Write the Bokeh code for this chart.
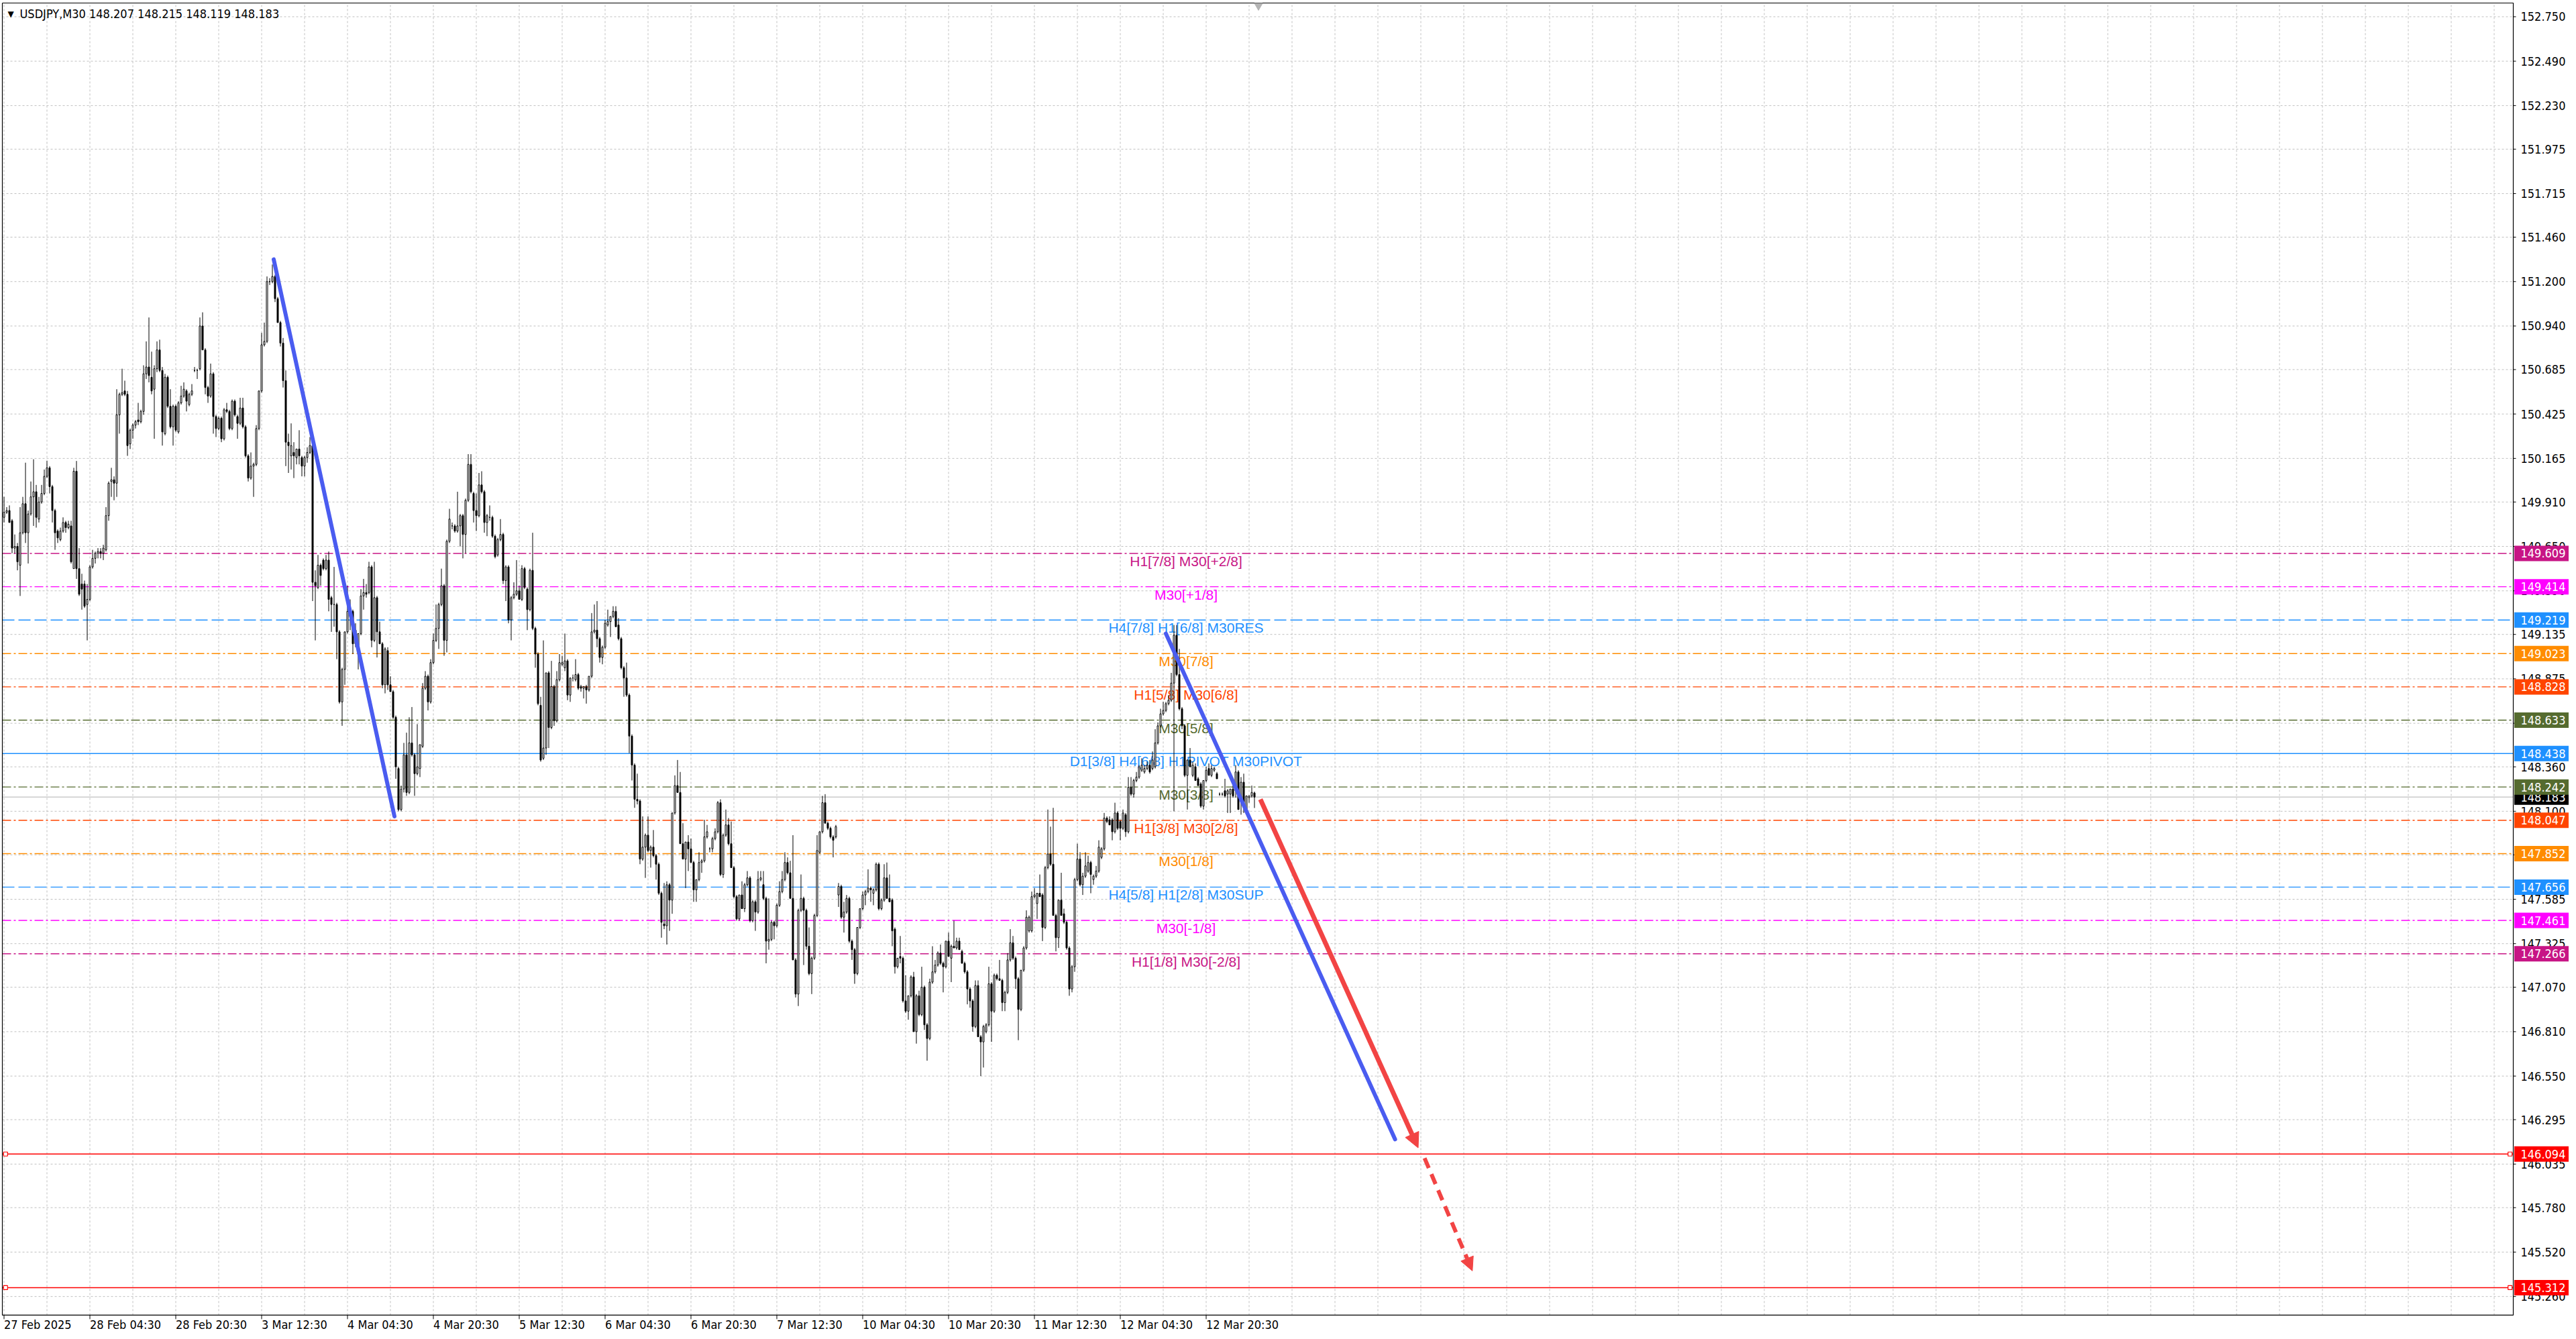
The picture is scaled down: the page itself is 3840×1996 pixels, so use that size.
from bokeh.plotting import figure
from bokeh.models import ColumnDataSource, Range1d, Label, Arrow, NormalHead
from bokeh.core.properties import value
from bokeh.embed import file_html
from bokeh.resources import INLINE

# ---- data (USDJPY M30, one value per bar) ----
title_text = "USDJPY,M30  148.207 148.215 148.119 148.183"

opens = [
    149.82, 149.85, 149.86, 149.80, 149.64, 149.65, 149.54, 149.73, 149.90, 149.73,
    149.84, 149.94, 149.97, 149.81, 149.91, 149.96, 150.06, 150.11, 150.00, 149.86,
    149.74, 149.69, 149.74, 149.79, 149.76, 149.77, 149.52, 150.09, 149.52, 149.43,
    149.43, 149.31, 149.34, 149.53, 149.58, 149.61, 149.62, 149.61, 149.63, 149.83,
    150.03, 150.04, 150.02, 150.42, 150.54, 150.56, 150.54, 150.25, 150.33, 150.36,
    150.39, 150.38, 150.44, 150.66, 150.70, 150.64, 150.57, 150.69, 150.80, 150.68,
    150.31, 150.64, 150.47, 150.35, 150.47, 150.32, 150.49, 150.53, 150.56, 150.48,
    150.54, 150.68, 150.68, 150.69, 150.94, 150.80, 150.58, 150.53, 150.66, 150.41,
    150.34, 150.40, 150.28, 150.45, 150.44, 150.34, 150.50, 150.41, 150.37, 150.46,
    150.35, 150.18, 150.05, 150.12, 150.13, 150.34, 150.56, 150.83, 150.85, 151.20,
    151.20, 151.23, 151.10, 150.96, 150.84, 150.62, 150.26, 150.18, 150.20, 150.17,
    150.22, 150.17, 150.12, 150.17, 150.20, 150.24, 149.44, 149.41, 149.54, 149.57,
    149.52, 149.57, 149.35, 149.31, 149.31, 149.15, 148.74, 148.93, 149.15, 149.27,
    149.27, 149.16, 149.07, 149.14, 149.36, 149.38, 149.38, 149.53, 149.10, 149.35,
    149.15, 149.08, 148.84, 149.04, 148.84, 148.80, 148.65, 148.35, 148.11, 148.23,
    148.43, 148.21, 148.50, 148.43, 148.32, 148.35, 148.48, 148.82, 148.89, 148.74,
    148.97, 149.10, 149.17, 149.31, 149.42, 149.10, 149.68, 149.77, 149.77, 149.74,
    149.77, 149.83, 149.72, 149.92, 150.13, 149.96, 149.86, 149.83, 150.01, 149.97,
    149.79, 149.82, 149.82, 149.71, 149.60, 149.69, 149.72, 149.45, 149.53, 149.22,
    149.35, 149.37, 149.39, 149.34, 149.52, 149.40, 149.28, 149.51, 149.17, 149.02,
    148.72, 148.41, 148.47, 148.91, 148.59, 148.83, 148.63, 148.87, 148.96, 148.94,
    148.98, 148.78, 148.88, 148.87, 148.90, 148.83, 148.82, 148.83, 148.81, 148.89,
    149.15, 149.16, 149.11, 149.00, 149.06, 149.19, 149.21, 149.24, 149.27, 149.19,
    149.11, 148.94, 148.88, 148.78, 148.54, 148.37, 148.17, 148.16, 147.82, 147.89,
    147.96, 147.87, 147.89, 147.84, 147.79, 147.62, 147.44, 147.43, 147.67, 147.58,
    148.09, 148.25, 148.21, 147.91, 147.82, 147.92, 147.88, 147.80, 147.64, 147.70,
    147.80, 147.81, 147.95, 147.88, 147.88, 147.94, 147.98, 148.15, 147.73, 147.96,
    148.02, 147.91, 147.77, 147.60, 147.47, 147.61, 147.53, 147.67, 147.71, 147.46,
    147.57, 147.51, 147.70, 147.67, 147.59, 147.34, 147.35, 147.45, 147.43, 147.55,
    147.63, 147.70, 147.80, 147.74, 147.59, 147.23, 147.03, 147.52, 147.59, 147.52,
    147.31, 147.15, 147.24, 147.49, 147.86, 147.98, 148.15, 148.03, 148.00, 147.95,
    147.95, 147.61, 147.66, 147.48, 147.51, 147.59, 147.34, 147.29, 147.15, 147.42,
    147.53, 147.61, 147.63, 147.65, 147.62, 147.64, 147.79, 147.53, 147.58, 147.71,
    147.59, 147.58, 147.41, 147.19, 147.25, 147.24, 146.99, 146.93, 147.02, 147.13,
    146.81, 147.02, 146.91, 147.07, 146.85, 146.77, 147.10, 147.16, 147.20, 147.27,
    147.21, 147.19, 147.34, 147.24, 147.31, 147.30, 147.34, 147.28, 147.21, 147.16,
    147.06, 146.99, 146.84, 147.08, 146.78, 146.75, 146.81, 146.85, 147.09, 146.93,
    147.14, 147.12, 147.11, 146.98, 147.04, 147.23, 147.33, 147.24, 147.12, 146.94,
    147.17, 147.30, 147.40, 147.40, 147.60, 147.56, 147.62, 147.61, 147.42, 147.77,
    147.85, 147.79, 147.49, 147.36, 147.58, 147.50, 147.45, 147.30, 147.06, 147.19,
    147.70, 147.82, 147.67, 147.72, 147.75, 147.80, 147.70, 147.72, 147.75, 147.83,
    147.88, 148.06, 148.05, 148.05, 147.98, 148.09, 148.04, 148.00, 148.08, 147.98,
    148.24, 148.20, 148.28, 148.30, 148.34, 148.33, 148.35, 148.37, 148.35, 148.36,
    148.50, 148.60, 148.67, 148.69, 148.73, 148.75, 148.85, 149.13, 148.90, 148.70,
    148.60, 148.31, 148.40, 148.31, 148.36, 148.29, 148.26, 148.13, 148.28, 148.35,
    148.31, 148.34, 148.32, 148.20, 148.20, 148.22, 148.20, 148.20, 148.23, 148.22,
    148.33, 148.16, 148.27, 148.11, 148.18, 148.19, 148.207,
]

highs = [
    149.94, 149.88, 149.89, 149.81, 149.72, 149.67, 149.88, 149.94, 150.14, 149.86,
    150.03, 150.16, 150.01, 149.94, 150.01, 150.10, 150.15, 150.12, 150.01, 149.87,
    149.75, 149.76, 149.82, 149.80, 149.80, 149.80, 150.11, 150.15, 149.64, 149.49,
    149.45, 149.43, 149.54, 149.63, 149.62, 149.64, 149.64, 149.66, 149.88, 150.03,
    150.11, 150.06, 150.57, 150.55, 150.69, 150.62, 150.56, 150.34, 150.37, 150.39,
    150.49, 150.45, 150.71, 150.85, 150.99, 150.79, 150.71, 150.85, 150.86, 150.70,
    150.66, 150.65, 150.57, 150.48, 150.48, 150.50, 150.59, 150.61, 150.57, 150.55,
    150.60, 150.70, 150.69, 150.99, 151.02, 150.81, 150.59, 150.72, 150.67, 150.42,
    150.41, 150.41, 150.46, 150.49, 150.45, 150.51, 150.51, 150.42, 150.52, 150.52,
    150.36, 150.19, 150.20, 150.14, 150.36, 150.56, 150.90, 150.96, 151.23, 151.22,
    151.30, 151.24, 151.11, 150.97, 150.87, 150.68, 150.31, 150.37, 150.26, 150.22,
    150.33, 150.18, 150.18, 150.23, 150.29, 150.26, 149.51, 149.60, 149.55, 149.58,
    149.60, 149.62, 149.36, 149.53, 149.32, 149.16, 148.94, 149.15, 149.42, 149.34,
    149.28, 149.20, 149.14, 149.40, 149.46, 149.43, 149.56, 149.54, 149.56, 149.36,
    149.21, 149.09, 149.06, 149.06, 148.89, 148.81, 148.66, 148.36, 148.25, 148.50,
    148.56, 148.65, 148.71, 148.44, 148.61, 148.49, 148.85, 148.92, 148.90, 148.99,
    149.14, 149.31, 149.32, 149.52, 149.43, 149.69, 149.87, 149.79, 149.78, 149.97,
    149.84, 149.84, 149.93, 150.19, 150.19, 149.97, 149.96, 150.08, 150.09, 149.98,
    149.84, 149.89, 149.83, 149.72, 149.70, 149.81, 149.73, 149.54, 149.54, 149.36,
    149.44, 149.57, 149.42, 149.54, 149.53, 149.41, 149.52, 149.73, 149.18, 149.03,
    148.77, 149.10, 148.91, 148.92, 148.98, 148.84, 148.92, 149.02, 149.01, 149.14,
    148.99, 148.88, 148.90, 148.99, 148.91, 148.84, 148.83, 148.84, 148.89, 149.26,
    149.31, 149.33, 149.12, 149.07, 149.22, 149.28, 149.24, 149.30, 149.30, 149.23,
    149.12, 148.95, 148.97, 148.79, 148.55, 148.38, 148.32, 148.17, 148.07, 147.97,
    148.07, 147.90, 147.99, 147.85, 147.80, 147.63, 147.68, 147.69, 147.68, 148.09,
    148.31, 148.40, 148.33, 148.03, 147.92, 147.96, 147.94, 147.81, 147.70, 147.86,
    147.82, 148.05, 148.02, 147.89, 147.95, 148.00, 148.16, 148.17, 147.97, 148.11,
    148.06, 148.04, 147.78, 147.61, 147.61, 147.69, 147.68, 147.75, 147.72, 147.58,
    147.58, 147.75, 147.75, 147.75, 147.60, 147.59, 147.46, 147.46, 147.56, 147.69,
    147.75, 147.86, 147.83, 147.81, 147.96, 147.24, 147.53, 147.73, 147.60, 147.53,
    147.42, 147.25, 147.50, 147.96, 147.98, 148.19, 148.20, 148.04, 148.01, 147.96,
    148.02, 147.68, 147.67, 147.57, 147.61, 147.60, 147.35, 147.30, 147.42, 147.53,
    147.63, 147.64, 147.76, 147.66, 147.65, 147.80, 147.80, 147.59, 147.79, 147.80,
    147.73, 147.59, 147.42, 147.24, 147.37, 147.25, 147.14, 147.02, 147.14, 147.16,
    147.03, 147.05, 147.19, 147.08, 146.86, 147.12, 147.31, 147.23, 147.28, 147.32,
    147.22, 147.34, 147.39, 147.32, 147.46, 147.36, 147.36, 147.29, 147.22, 147.17,
    147.07, 147.00, 147.11, 147.11, 146.79, 146.85, 146.86, 147.19, 147.10, 147.15,
    147.15, 147.23, 147.12, 147.05, 147.27, 147.41, 147.37, 147.25, 147.13, 147.17,
    147.31, 147.52, 147.49, 147.63, 147.65, 147.62, 147.73, 147.62, 147.78, 148.11,
    148.01, 148.12, 147.50, 147.58, 147.74, 147.53, 147.46, 147.31, 147.20, 147.71,
    147.91, 147.86, 147.74, 147.86, 147.84, 147.81, 147.73, 147.78, 147.93, 147.89,
    148.09, 148.07, 148.07, 148.06, 148.15, 148.10, 148.05, 148.11, 148.09, 148.30,
    148.30, 148.29, 148.33, 148.37, 148.41, 148.37, 148.39, 148.40, 148.45, 148.58,
    148.62, 148.70, 148.74, 148.74, 148.78, 148.91, 149.19, 149.19, 149.05, 148.71,
    148.61, 148.40, 148.47, 148.39, 148.38, 148.30, 148.27, 148.28, 148.36, 148.38,
    148.37, 148.36, 148.33, 148.21, 148.21, 148.29, 148.23, 148.23, 148.26, 148.37,
    148.34, 148.30, 148.32, 148.19, 148.19, 148.25, 148.215,
]

lows = [
    149.79, 149.84, 149.79, 149.61, 149.61, 149.51, 149.36, 149.72, 149.67, 149.55,
    149.83, 149.77, 149.76, 149.79, 149.90, 149.95, 150.05, 149.96, 149.79, 149.63,
    149.67, 149.68, 149.73, 149.73, 149.75, 149.55, 149.52, 149.46, 149.36, 149.28,
    149.29, 149.10, 149.33, 149.52, 149.55, 149.58, 149.58, 149.57, 149.62, 149.80,
    149.94, 149.92, 149.94, 150.31, 150.53, 150.53, 150.18, 150.22, 150.28, 150.34,
    150.36, 150.37, 150.42, 150.63, 150.61, 150.54, 150.28, 150.67, 150.67, 150.24,
    150.30, 150.46, 150.34, 150.24, 150.32, 150.31, 150.48, 150.52, 150.44, 150.47,
    150.53, 150.67, 150.63, 150.68, 150.80, 150.54, 150.49, 150.52, 150.31, 150.29,
    150.33, 150.26, 150.27, 150.43, 150.33, 150.33, 150.41, 150.28, 150.36, 150.34,
    150.17, 150.03, 150.04, 149.94, 150.12, 150.33, 150.55, 150.82, 150.84, 151.18,
    151.19, 151.08, 150.96, 150.82, 150.58, 150.12, 150.08, 150.10, 150.05, 150.13,
    150.13, 150.06, 150.06, 150.14, 150.19, 149.33, 149.10, 149.40, 149.42, 149.51,
    149.51, 149.27, 149.15, 149.18, 148.99, 148.73, 148.60, 148.84, 149.14, 149.16,
    149.02, 149.06, 148.93, 149.13, 149.28, 149.35, 149.37, 149.06, 149.09, 149.00,
    149.08, 148.82, 148.79, 148.81, 148.80, 148.64, 148.29, 148.10, 148.10, 148.21,
    148.19, 148.20, 148.42, 148.19, 148.31, 148.30, 148.47, 148.81, 148.69, 148.73,
    148.96, 149.09, 149.05, 149.30, 149.01, 149.03, 149.67, 149.75, 149.73, 149.73,
    149.65, 149.58, 149.61, 149.91, 149.96, 149.79, 149.74, 149.82, 149.96, 149.73,
    149.71, 149.80, 149.70, 149.58, 149.59, 149.68, 149.43, 149.33, 149.20, 149.10,
    149.34, 149.36, 149.34, 149.33, 149.40, 149.16, 149.27, 149.16, 148.94, 148.72,
    148.39, 148.40, 148.43, 148.47, 148.58, 148.60, 148.62, 148.86, 148.95, 148.92,
    148.75, 148.74, 148.86, 148.86, 148.81, 148.80, 148.76, 148.73, 148.80, 148.88,
    149.14, 149.06, 148.97, 148.96, 149.05, 149.18, 149.12, 149.23, 149.18, 149.10,
    148.93, 148.77, 148.77, 148.44, 148.28, 148.12, 148.14, 147.79, 147.81, 147.71,
    147.86, 147.77, 147.83, 147.70, 147.61, 147.36, 147.41, 147.32, 147.40, 147.50,
    148.08, 148.21, 147.91, 147.82, 147.65, 147.75, 147.80, 147.57, 147.57, 147.69,
    147.74, 147.80, 147.94, 147.86, 147.86, 147.93, 147.97, 147.72, 147.71, 147.95,
    147.90, 147.77, 147.59, 147.46, 147.46, 147.53, 147.51, 147.66, 147.45, 147.45,
    147.40, 147.50, 147.69, 147.58, 147.21, 147.29, 147.34, 147.35, 147.42, 147.54,
    147.62, 147.69, 147.73, 147.59, 147.23, 147.01, 146.96, 147.51, 147.20, 147.29,
    147.14, 147.03, 147.23, 147.48, 147.85, 147.97, 148.03, 147.99, 147.94, 147.83,
    147.94, 147.54, 147.47, 147.39, 147.50, 147.33, 147.23, 147.09, 147.14, 147.41,
    147.52, 147.55, 147.62, 147.57, 147.55, 147.63, 147.52, 147.52, 147.57, 147.59,
    147.57, 147.31, 147.15, 147.18, 147.21, 146.98, 146.92, 146.88, 147.01, 146.81,
    146.74, 146.90, 146.90, 146.82, 146.64, 146.76, 147.09, 147.15, 147.19, 147.20,
    147.04, 147.18, 147.25, 147.10, 147.30, 147.29, 147.29, 147.21, 147.15, 146.97,
    146.95, 146.81, 146.83, 146.78, 146.55, 146.60, 146.80, 146.84, 146.75, 146.92,
    147.11, 147.11, 146.93, 146.93, 147.03, 147.22, 147.23, 147.06, 146.76, 146.93,
    147.16, 147.29, 147.39, 147.39, 147.59, 147.47, 147.60, 147.34, 147.41, 147.76,
    147.78, 147.49, 147.28, 147.30, 147.49, 147.44, 147.29, 147.02, 147.04, 147.16,
    147.69, 147.66, 147.61, 147.71, 147.74, 147.62, 147.67, 147.71, 147.74, 147.82,
    147.87, 148.03, 148.02, 147.93, 147.97, 147.99, 147.93, 147.99, 147.95, 147.97,
    148.19, 148.18, 148.27, 148.29, 148.33, 148.32, 148.34, 148.32, 148.34, 148.35,
    148.49, 148.59, 148.66, 148.68, 148.72, 148.74, 148.10, 148.89, 148.69, 148.58,
    148.30, 148.11, 148.36, 148.30, 148.28, 148.25, 148.12, 148.11, 148.27, 148.31,
    148.30, 148.33, 148.29, 148.19, 148.19, 148.18, 148.09, 148.09, 148.18, 148.18,
    148.11, 148.08, 148.09, 148.10, 148.15, 148.18, 148.119,
]

closes = [
    149.85, 149.86, 149.79, 149.64, 149.65, 149.56, 149.73, 149.90, 149.73, 149.84,
    149.94, 149.97, 149.82, 149.91, 149.96, 150.06, 150.11, 150.00, 149.86, 149.73,
    149.70, 149.74, 149.79, 149.76, 149.78, 149.56, 150.09, 149.52, 149.37, 149.40,
    149.30, 149.34, 149.53, 149.58, 149.61, 149.62, 149.61, 149.64, 149.83, 150.02,
    150.04, 150.02, 150.42, 150.54, 150.55, 150.54, 150.24, 150.33, 150.36, 150.38,
    150.38, 150.44, 150.66, 150.70, 150.65, 150.56, 150.69, 150.80, 150.68, 150.32,
    150.64, 150.47, 150.35, 150.47, 150.33, 150.49, 150.53, 150.57, 150.50, 150.54,
    150.56, 150.68, 150.68, 150.94, 150.80, 150.58, 150.53, 150.66, 150.41, 150.34,
    150.40, 150.28, 150.45, 150.44, 150.34, 150.50, 150.42, 150.37, 150.46, 150.35,
    150.18, 150.05, 150.12, 150.13, 150.34, 150.56, 150.83, 150.85, 151.20, 151.20,
    151.23, 151.10, 150.96, 150.84, 150.62, 150.26, 150.24, 150.24, 150.18, 150.22,
    150.18, 150.12, 150.17, 150.20, 150.24, 149.44, 149.42, 149.54, 149.48, 149.52,
    149.57, 149.34, 149.31, 149.31, 149.15, 148.74, 148.93, 149.15, 149.27, 149.24,
    149.08, 149.08, 149.14, 149.36, 149.38, 149.37, 149.53, 149.10, 149.35, 149.15,
    149.08, 148.84, 149.05, 148.84, 148.80, 148.65, 148.36, 148.11, 148.23, 148.43,
    148.21, 148.50, 148.43, 148.32, 148.36, 148.49, 148.82, 148.89, 148.74, 148.97,
    149.10, 149.17, 149.31, 149.42, 149.10, 149.68, 149.81, 149.77, 149.74, 149.77,
    149.83, 149.72, 149.92, 150.13, 149.97, 149.86, 149.83, 150.01, 149.97, 149.79,
    149.83, 149.82, 149.71, 149.59, 149.69, 149.72, 149.45, 149.53, 149.22, 149.35,
    149.37, 149.39, 149.34, 149.52, 149.41, 149.28, 149.51, 149.17, 149.02, 148.73,
    148.40, 148.47, 148.91, 148.59, 148.83, 148.63, 148.87, 148.97, 148.97, 148.98,
    148.78, 148.88, 148.88, 148.90, 148.82, 148.82, 148.83, 148.81, 148.89, 149.15,
    149.16, 149.11, 149.00, 149.06, 149.20, 149.21, 149.24, 149.27, 149.18, 149.11,
    148.94, 148.88, 148.78, 148.54, 148.37, 148.17, 148.16, 147.82, 147.89, 147.96,
    147.87, 147.89, 147.84, 147.79, 147.62, 147.45, 147.43, 147.67, 147.58, 148.09,
    148.25, 148.21, 147.91, 147.82, 147.92, 147.88, 147.80, 147.64, 147.70, 147.80,
    147.81, 147.95, 147.98, 147.88, 147.94, 147.98, 148.15, 147.73, 147.96, 148.02,
    147.91, 147.77, 147.60, 147.47, 147.61, 147.53, 147.67, 147.71, 147.46, 147.57,
    147.51, 147.70, 147.71, 147.59, 147.34, 147.35, 147.45, 147.43, 147.55, 147.63,
    147.70, 147.80, 147.74, 147.59, 147.23, 147.03, 147.52, 147.59, 147.52, 147.31,
    147.15, 147.24, 147.49, 147.87, 147.98, 148.15, 148.03, 148.00, 147.95, 147.93,
    148.01, 147.66, 147.48, 147.51, 147.59, 147.34, 147.29, 147.15, 147.42, 147.53,
    147.61, 147.63, 147.65, 147.64, 147.64, 147.79, 147.53, 147.58, 147.71, 147.59,
    147.57, 147.40, 147.19, 147.24, 147.24, 146.99, 146.93, 147.02, 147.13, 146.81,
    147.02, 146.91, 147.07, 146.85, 146.77, 147.10, 147.16, 147.20, 147.27, 147.21,
    147.19, 147.34, 147.25, 147.31, 147.30, 147.34, 147.29, 147.21, 147.16, 147.06,
    146.99, 146.84, 147.08, 146.78, 146.75, 146.84, 146.85, 147.09, 146.93, 147.14,
    147.12, 147.11, 146.98, 147.04, 147.23, 147.33, 147.24, 147.12, 146.94, 147.17,
    147.30, 147.48, 147.48, 147.60, 147.61, 147.62, 147.60, 147.42, 147.77, 147.85,
    147.79, 147.49, 147.36, 147.58, 147.49, 147.45, 147.30, 147.06, 147.19, 147.70,
    147.82, 147.67, 147.72, 147.78, 147.80, 147.73, 147.72, 147.75, 147.89, 147.88,
    148.06, 148.04, 148.02, 147.98, 148.09, 148.00, 148.00, 148.09, 147.98, 148.24,
    148.20, 148.28, 148.30, 148.36, 148.37, 148.35, 148.37, 148.33, 148.40, 148.50,
    148.60, 148.67, 148.69, 148.73, 148.75, 148.85, 149.13, 148.90, 148.70, 148.60,
    148.31, 148.40, 148.36, 148.37, 148.28, 148.25, 148.13, 148.28, 148.34, 148.31,
    148.35, 148.35, 148.29, 148.20, 148.20, 148.19, 148.22, 148.23, 148.19, 148.33,
    148.11, 148.27, 148.15, 148.19, 148.19, 148.21, 148.183,
]

# time axis: a label every 32 bars
date_bars = [0, 32, 64, 96, 128, 160, 192, 224, 256, 288, 320, 352, 384, 416, 448]
date_labels = ["27 Feb 2025", "28 Feb 04:30", "28 Feb 20:30", "3 Mar 12:30", "4 Mar 04:30",
               "4 Mar 20:30", "5 Mar 12:30", "6 Mar 04:30", "6 Mar 20:30", "7 Mar 12:30",
               "10 Mar 04:30", "10 Mar 20:30", "11 Mar 12:30", "12 Mar 04:30", "12 Mar 20:30"]

price_ticks = [152.750, 152.490, 152.230, 151.975, 151.715, 151.460, 151.200, 150.940,
               150.685, 150.425, 150.165, 149.910, 149.650, 149.390, 149.135, 148.875,
               148.615, 148.360, 148.100, 147.845, 147.585, 147.325, 147.070, 146.810,
               146.550, 146.295, 146.035, 145.780, 145.520, 145.260]

# Murrey math levels
level_prices = [149.609, 149.414, 149.219, 149.023, 148.828, 148.633, 148.438,
                148.242, 148.047, 147.852, 147.656, 147.461, 147.266]
level_texts = ["H1[7/8] M30[+2/8]", "M30[+1/8]", "H4[7/8] H1[6/8] M30RES", "M30[7/8]",
               "H1[5/8] M30[6/8]", "M30[5/8]", "D1[3/8] H4[6/8] H1PIVOT M30PIVOT",
               "M30[3/8]", "H1[3/8] M30[2/8]", "M30[1/8]", "H4[5/8] H1[2/8] M30SUP",
               "M30[-1/8]", "H1[1/8] M30[-2/8]"]
target_prices = [146.094, 145.312]
last_price = 148.183

# hand drawn lines (bar index, price)
trend1_x, trend1_y = [100.5, 145.5], [151.33, 148.07]
trend2_x, trend2_y = [433.0, 518.4], [149.14, 146.18]
arrow1_x, arrow1_y = [468.2, 527.0], [148.17, 146.13]
arrow2_x, arrow2_y = [529.4, 547.2], [146.07, 145.41]

# ---- styles ----
MVR, MAG, DBL, DOR, ORD, OLV = "#C71585", "#FF00FF", "#1E90FF", "#FF8C00", "#FF4500", "#556B2F"
level_colors = [MVR, MAG, DBL, DOR, ORD, OLV, DBL, OLV, ORD, DOR, DBL, MAG, MVR]
DASHDOT, LONGDASH = "13 4 3 4", "18 6"
level_dashes = [DASHDOT, DASHDOT, LONGDASH, DASHDOT, DASHDOT, DASHDOT, "solid",
                DASHDOT, DASHDOT, DASHDOT, LONGDASH, DASHDOT, DASHDOT]
AXIS_FONT = "DejaVu Sans Condensed, DejaVu Sans"
AXIS_SIZE = "18px"
LABEL_FONT = "Liberation Sans"
BLUE = "#4a5cf0"
RED = "#f24444"

# ---- layout: the whole canvas is one frame, the MT4 chart window is drawn inside it ----
W, H = 3830, 1986
PX_BAR = 4.0              # pixels per bar
PX_PRICE = 254.7          # pixels per yen
X_LEFT = -5.5 / PX_BAR    # bar centres land on pixel centres
Y_TOP = 152.846           # price at the top canvas edge
x_end = X_LEFT + W / PX_BAR
y_low = Y_TOP - H / PX_PRICE
px_x = 1.0 / PX_BAR
px_y = 1.0 / PX_PRICE
chart_left = X_LEFT + 3 * px_x          # chart window borders
chart_right = X_LEFT + 3746 * px_x
chart_top = Y_TOP - 4 * px_y
chart_bottom = 145.151

n = min(len(opens), len(highs), len(lows), len(closes))
src = ColumnDataSource(data=dict(
    x=list(range(n)),
    high=highs[:n],
    low=lows[:n],
    top=[max(o, c) for o, c in zip(opens[:n], closes[:n])],
    bottom=[min(o, c) for o, c in zip(opens[:n], closes[:n])],
    fill=["white" if c >= o else "black" for o, c in zip(opens[:n], closes[:n])],
))

p = figure(width=W, height=H, x_range=Range1d(X_LEFT, x_end), y_range=Range1d(y_low, Y_TOP),
           x_axis_location=None, y_axis_location=None, toolbar_location=None,
           output_backend="svg", min_border=0)
p.outline_line_color = None
p.xgrid.visible = False
p.ygrid.visible = False
p.background_fill_color = "white"
p.border_fill_color = "white"

# grid
grid_x = list(range(0, int(chart_right) + 1, 16))
p.segment(x0=grid_x, y0=[chart_bottom] * len(grid_x), x1=grid_x, y1=[chart_top] * len(grid_x),
          line_color="#c0c0c0", line_dash="3 3", line_width=1)
p.segment(x0=[chart_left] * len(price_ticks), y0=price_ticks,
          x1=[chart_right] * len(price_ticks), y1=price_ticks,
          line_color="#c0c0c0", line_dash="3 3", line_width=1)

# level lines and their captions
for lv, col, dsh in zip(level_prices, level_colors, level_dashes):
    p.line([chart_left, chart_right], [lv, lv], line_color=col, line_dash=dsh, line_width=1.4)
p.line([chart_left, chart_right], [last_price, last_price], line_color="#c0c0c0", line_width=1.4)
for tp in target_prices:
    p.line([chart_left, chart_right], [tp, tp], line_color="red", line_width=1.5)
p.scatter(x=[chart_left + 1.2, chart_right - 1.2] * 2,
          y=[target_prices[0], target_prices[0], target_prices[1], target_prices[1]],
          marker="square", size=6, fill_color="white", line_color="red", line_width=1.2)

p.text(x=[440.5] * len(level_prices), y=level_prices, text=level_texts,
       text_color=level_colors, text_font=value(LABEL_FONT), text_font_size="21px",
       text_align="center", text_baseline="top", y_offset=0)

# candles
p.segment(x0="x", y0="low", x1="x", y1="high", source=src, line_color="black", line_width=1)
p.vbar(x="x", top="top", bottom="bottom", width=0.5, fill_color="fill",
       line_color="black", line_width=1, source=src)

# trend lines and forecast arrows
p.line(trend1_x, trend1_y, line_color=BLUE, line_width=6, line_cap="round")
p.line(trend2_x, trend2_y, line_color=BLUE, line_width=6, line_cap="round")
p.add_layout(Arrow(end=NormalHead(size=22, fill_color=RED, line_color=RED),
                   x_start=arrow1_x[0], y_start=arrow1_y[0],
                   x_end=arrow1_x[1], y_end=arrow1_y[1],
                   line_color=RED, line_width=7))
p.add_layout(Arrow(end=NormalHead(size=20, fill_color=RED, line_color=RED),
                   x_start=arrow2_x[0], y_start=arrow2_y[0],
                   x_end=arrow2_x[1], y_end=arrow2_y[1],
                   line_color=RED, line_width=6, line_dash="16 10"))

# chart window border
p.line([chart_left, chart_right, chart_right, chart_left, chart_left],
       [chart_top, chart_top, chart_bottom, chart_bottom, chart_top],
       line_color="black", line_width=1.2)

# price scale on the right
p.segment(x0=[chart_right] * len(price_ticks), y0=price_ticks,
          x1=[chart_right + 4 * px_x] * len(price_ticks), y1=price_ticks,
          line_color="black", line_width=1)
scale_x = chart_right + 11 * px_x
p.text(x=[scale_x] * len(price_ticks), y=price_ticks, text=["%.3f" % t for t in price_ticks],
       text_font=value(AXIS_FONT), text_font_size=AXIS_SIZE, text_color="black",
       text_align="left", text_baseline="middle")

# time scale at the bottom
p.segment(x0=date_bars, y0=[chart_bottom] * len(date_bars),
          x1=date_bars, y1=[chart_bottom - 6 * px_y] * len(date_bars),
          line_color="black", line_width=1)
p.text(x=date_bars, y=[chart_bottom - 4 * px_y] * len(date_bars), text=date_labels,
       text_font=value(AXIS_FONT), text_font_size=AXIS_SIZE, text_color="black",
       text_align="left", text_baseline="top", x_offset=0)

# coloured price boxes on the scale, each box drawn over the previous ones
box_prices = [last_price] + level_prices + target_prices
box_colors = ["black"] + level_colors + ["red", "red"]
box_cx = chart_right + 42 * px_x
for bp, bc in zip(box_prices, box_colors):
    p.rect(x=[box_cx], y=[bp], width=81, height=23, width_units="screen",
           height_units="screen", fill_color=bc, line_color=None)
    p.text(x=[scale_x], y=[bp], text=["%.3f" % bp], text_font=value(AXIS_FONT),
           text_font_size=AXIS_SIZE, text_color="white", text_align="left",
           text_baseline="middle")

# chart shift marker at the top
p.scatter(x=[467.5], y=[chart_top - 4 * px_y], marker="inverted_triangle", size=12,
          fill_color="#b4b4b4", line_color="#b4b4b4")

# symbol header
p.add_layout(Label(x=11, y=H - 13, x_units="screen", y_units="screen", text="\u25bc",
                   text_font="DejaVu Sans", text_font_size="12px", text_color="black",
                   text_baseline="top"))
p.add_layout(Label(x=29, y=H - 9, x_units="screen", y_units="screen", text=title_text,
                   text_font=AXIS_FONT, text_font_size=AXIS_SIZE, text_color="black",
                   text_baseline="top"))

open("out.html", "w").write(file_html(p, INLINE, title="USDJPY,M30"))
